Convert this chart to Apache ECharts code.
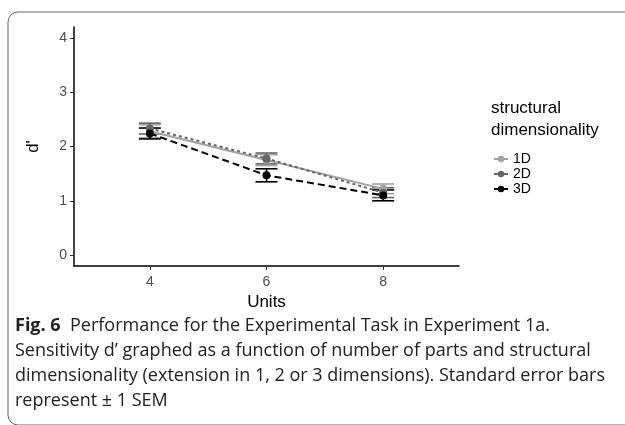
<!DOCTYPE html>
<html><head><meta charset="utf-8">
<script src="https://cdn.jsdelivr.net/npm/echarts@6/dist/echarts.min.js"></script>
<style>html,body{margin:0;padding:0;background:#fff}#c{width:625px;height:425px}</style>
</head><body><div id="c"></div>
<script>
var units = [4, 6, 8];
var seriesNames = ['1D', '2D', '3D'];
var mean1D = [2.28, 1.75, 1.22];
var mean2D = [2.33, 1.78, 1.15];
var mean3D = [2.24, 1.47, 1.10];
var sem1D = [0.12, 0.10, 0.09];
var sem2D = [0.10, 0.10, 0.09];
var sem3D = [0.10, 0.12, 0.10];
var yTicks = [0, 1, 2, 3, 4];

var means = [mean1D, mean2D, mean3D];
var sems = [sem1D, sem2D, sem3D];
var colors = ['#a3a3a3', '#666666', '#000000'];
var lineTypes = ['solid', [3, 3], [7, 4]];

var chart = echarts.init(document.getElementById('c'));
var series = [];
seriesNames.forEach(function (name, i) {
  series.push({
    name: name, type: 'line',
    data: units.map(function (u, k) { return [u, means[i][k]]; }),
    symbol: 'circle', symbolSize: 8,
    itemStyle: { color: colors[i] },
    lineStyle: { color: colors[i], width: 2, type: lineTypes[i] },
    z: 3
  });
  series.push({
    type: 'custom', name: name,
    data: units.map(function (u, k) { return [u, means[i][k] - sems[i][k], means[i][k] + sems[i][k]]; }),
    renderItem: function (params, api) {
      var x = api.value(0);
      var lo = api.coord([x, api.value(1)]);
      var hi = api.coord([x, api.value(2)]);
      var w = 11;
      var st = { stroke: colors[i], lineWidth: 1.6 };
      return { type: 'group', children: [
        { type: 'line', shape: { x1: lo[0], y1: lo[1], x2: hi[0], y2: hi[1] }, style: st },
        { type: 'line', shape: { x1: lo[0] - w, y1: lo[1], x2: lo[0] + w, y2: lo[1] }, style: st },
        { type: 'line', shape: { x1: hi[0] - w, y1: hi[1], x2: hi[0] + w, y2: hi[1] }, style: st }
      ]};
    },
    encode: { x: 0, y: [1, 2] },
    z: 2, silent: true
  });
});

var axisLabelStyle = { color: '#4d4d4d', fontSize: 14, fontFamily: 'Liberation Sans' };
chart.setOption({
  animation: false,
  backgroundColor: '#fff',
  grid: { left: 74, top: 27, right: 166, bottom: 159 },
  xAxis: {
    type: 'value', min: 2.7, max: 9.3,
    axisLine: { onZero: false, lineStyle: { color: '#000', width: 1.5 } },
    axisTick: { show: true, length: 4, customValues: units, lineStyle: { color: '#333' } },
    splitLine: { show: false },
    axisLabel: Object.assign({ margin: 9, customValues: units }, axisLabelStyle),
    name: 'Units', nameLocation: 'middle', nameGap: 25,
    nameTextStyle: { color: '#000', fontSize: 17, fontFamily: 'Liberation Sans' }
  },
  yAxis: {
    type: 'value', min: -0.2, max: 4.2,
    axisLine: { show: true, onZero: false, lineStyle: { color: '#000', width: 1.5 } },
    axisTick: { show: true, length: 4, customValues: yTicks, lineStyle: { color: '#333' } },
    splitLine: { show: false },
    axisLabel: Object.assign({ margin: 7, customValues: yTicks }, axisLabelStyle),
    name: "d'", nameLocation: 'middle', nameGap: 32, nameRotate: 90,
    nameTextStyle: { color: '#000', fontSize: 17, fontFamily: 'Liberation Sans' }
  },
  legend: {
    data: seriesNames, orient: 'vertical', left: 488, top: 147,
    itemWidth: 14, itemHeight: 8, itemGap: 1,
    lineStyle: { type: 'solid' },
    textStyle: { color: '#000', fontSize: 14, fontFamily: 'Liberation Sans' }
  },
  graphic: [
    { type: 'rect', shape: { x: 8, y: 12, width: 660, height: 413, r: 10 },
      style: { fill: 'none', stroke: '#666', lineWidth: 1 }, z: -1 },
    { type: 'text', left: 491, top: 97,
      style: { text: 'structural\ndimensionality', fill: '#000', font: '17px "Liberation Sans"', lineHeight: 22 } },
    { type: 'text', left: 15, top: 313,
      style: { text: '{b|Fig. 6}  Performance for the Experimental Task in Experiment 1a.\nSensitivity d\u2019 graphed as a function of number of parts and structural\ndimensionality (extension in 1, 2 or 3 dimensions). Standard error bars\nrepresent \u00b1 1 SEM',
        fill: '#222', font: '18px "Open Sans"', lineHeight: 25,
        rich: { b: { fontWeight: 'bold', fontSize: 18, fontFamily: 'Open Sans', fill: '#222', lineHeight: 25 } } } }
  ],
  series: series
});
</script></body></html>
